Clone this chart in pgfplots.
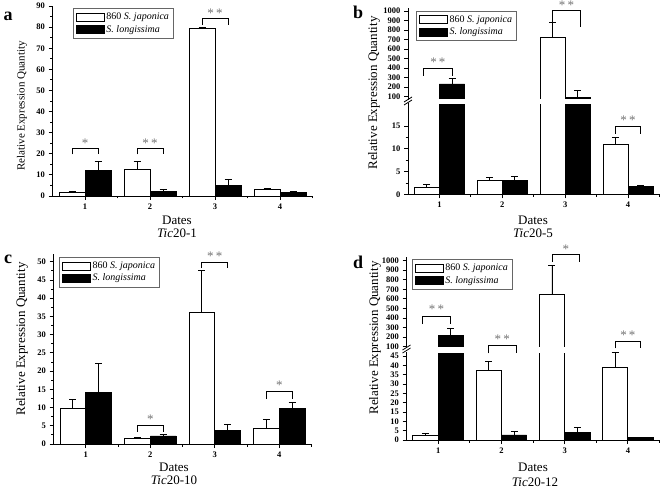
\documentclass[border=0pt]{standalone}
\usepackage{fontspec}
\setmainfont{Liberation Serif}
\usepackage{pgfplots}
\pgfplotsset{compat=1.18}

\pgfplotsset{
  base/.style={scale only axis, ybar=0pt, bar width=0.4, xmin=0.5, xmax=4.5,
    tick align=outside, major tick length=4pt, minor tick length=2.5pt,
    every tick/.style={black, line width=0.8pt},
    axis line style={line width=0.8pt},
    ticklabel style={font=\bfseries\fontsize{8.5}{9}\selectfont},
    /pgf/number format/assume math mode=true,
    /pgf/number format/1000 sep={},
    clip mode=individual,
    legend style={draw=black!60, line width=0.7pt, font=\fontsize{10}{11}\selectfont, inner xsep=2.5pt, inner ysep=2.5pt, cells={anchor=west}, row sep=0pt},
  },
  lower/.style={base, axis lines*=left, xtick={1,2,3,4}, minor xtick={1.5,2.5,3.5,4.5}},
  upper/.style={base, axis y line*=left, axis x line=none, xtick=\empty, ytick={100,200,...,1000}},
  errs/.style={error bars/y dir=plus, error bars/y explicit,
    error bars/error bar style={line width=0.8pt, black},
    error bars/error mark options={rotate=90, mark size=3.5pt, line width=0.8pt, black}},
  wbar/.style={fill=white, draw=black, line width=0.8pt, bar shift=-0.2, errs,
    legend image code/.code={\draw[fill=white, draw=black, line width=0.6pt] (0pt,-4pt) rectangle (28pt,4pt);}},
  bbar/.style={fill=black, draw=black, line width=0.8pt, bar shift=0.2, errs,
    legend image code/.code={\draw[fill=black, draw=black, line width=0.6pt] (0pt,-4pt) rectangle (28pt,4pt);}},
}
\newcommand{\sig}[6]{%
  \draw[line width=0.8pt] (axis cs:#1,#4) -- (axis cs:#1,#3) -- (axis cs:#2,#3) -- (axis cs:#2,#4);
  \node[font=\fontsize{13}{13}\selectfont, text=black!55] at (axis cs:{(#1+#2)/2},#6) {#5};}
\newcommand{\ylab}{Relative Expression Quantity}

\begin{document}
\begin{tikzpicture}
\path[use as bounding box] (0,0) rectangle (660pt,490pt);

% ---------------- panel a ----------------
\begin{axis}[lower, at={(52.5pt,294pt)}, anchor=south west, width=260pt, height=190pt,
  ymin=0, ymax=90, ytick={0,10,...,90}, minor y tick num=1,
  legend style={at={(0.079,0.989)}, anchor=north west}]
\addplot[wbar] table[x=x, y=y, y error=e] {
x y e
1 1.5 0.9
2 12.5 3.7
3 79.2 0.5
4 3.1 0.5
};
\addlegendentry{860 \textit{S. japonica}}
\addplot[bbar] table[x=x, y=y, y error=e] {
x y e
1 12.2 4.3
2 2.2 0.8
3 4.8 3.2
4 1.6 0.5
};
\addlegendentry{\textit{S. longissima}}
\sig{0.8}{1.2}{22.5}{19.7}{*}{25.2}
\sig{1.8}{2.2}{22.5}{19.7}{*\,*}{25.2}
\sig{2.8}{3.2}{84}{80.9}{*\,*}{86.8}
\end{axis}
\node[rotate=90, font=\fontsize{11}{11}\selectfont] at (22pt,384pt) {\ylab};
\node[font=\fontsize{13}{13}\selectfont] at (177pt,270pt) {Dates};
\node[font=\fontsize{13}{13}\selectfont] at (177pt,257pt) {\textit{Tic}20-1};
\node[font=\bfseries\fontsize{18}{18}\selectfont] at (8pt,474pt) {a};

% ---------------- panel b ----------------
\begin{axis}[upper, at={(408pt,390pt)}, anchor=south west, width=251.5pt, height=91.9pt,
  ymin=65, ymax=1030, restrict y to domain=65:5000,
  legend style={at={(0.032,0.972)}, anchor=north west}]
\addplot[wbar] table[x=x, y=y, y error=e] {
x y e
1 1.6 0.6
2 3.0 0.8
3 725 160
4 11.0 1.4
};
\addlegendentry{860 \textit{S. japonica}}
\addplot[bbar] table[x=x, y=y, y error=e] {
x y e
1 233 55
2 3.1 0.9
3 93 68
4 1.8 0.2
};
\addlegendentry{\textit{S. longissima}}
\sig{0.75}{1.2}{397}{317}{*\,*}{462}
\sig{2.8}{3.24}{1010}{834}{*\,*}{1055}
\end{axis}
\begin{axis}[lower, at={(408pt,295.7pt)}, anchor=south west, width=251.5pt, height=91pt,
  ymin=0, ymax=20, ytick={0,5,10,15}, minor y tick num=1]
\addplot[wbar] table[x=x, y=y, y error=e] {
x y e
1 1.6 0.6
2 3.0 0.8
3 725 160
4 11.0 1.4
};
\addplot[bbar] table[x=x, y=y, y error=e] {
x y e
1 233 55
2 3.1 0.9
3 93 68
4 1.8 0.2
};
\sig{3.8}{4.2}{14.9}{13.3}{*\,*}{16.3}
\end{axis}
% break gap
\fill[white] (438pt,386.2pt) rectangle (466pt,390.5pt);
\fill[white] (538.5pt,386.2pt) rectangle (592pt,390.5pt);
\draw[line width=0.8pt] (404pt,385pt) -- (412pt,390pt);
\draw[line width=0.8pt] (404pt,388pt) -- (412pt,393pt);
\node[rotate=90, font=\fontsize{13}{13}\selectfont] at (374pt,397pt) {\ylab};
\node[font=\fontsize{13}{13}\selectfont] at (533pt,270pt) {Dates};
\node[font=\fontsize{13}{13}\selectfont] at (533pt,257pt) {\textit{Tic}20-5};
\node[font=\bfseries\fontsize{18}{18}\selectfont] at (358pt,478pt) {b};

% ---------------- panel c ----------------
\begin{axis}[lower, at={(53.5pt,46pt)}, anchor=south west, width=258pt, height=189.6pt,
  ymin=0, ymax=52, ytick={0,5,...,50}, minor y tick num=1,
  legend style={at={(0.022,0.986)}, anchor=north west}]
\addplot[wbar] table[x=x, y=y, y error=e] {
x y e
1 9.8 2.5
2 1.4 0.4
3 36.2 11.4
4 4.3 2.4
};
\addlegendentry{860 \textit{S. japonica}}
\addplot[bbar] table[x=x, y=y, y error=e] {
x y e
1 14.2 7.8
2 2.2 0.4
3 3.7 1.7
4 9.7 1.7
};
\addlegendentry{\textit{S. longissima}}
\sig{1.8}{2.2}{5.2}{3.4}{*}{6.9}
\sig{2.8}{3.2}{49.8}{48.2}{*\,*}{51.5}
\sig{3.8}{4.2}{14.3}{12.3}{*}{16.0}
\end{axis}
\node[rotate=90, font=\fontsize{13}{13}\selectfont] at (22pt,151pt) {\ylab};
\node[font=\fontsize{13}{13}\selectfont] at (174pt,23pt) {Dates};
\node[font=\fontsize{13}{13}\selectfont] at (174pt,10pt) {\textit{Tic}20-10};
\node[font=\bfseries\fontsize{18}{18}\selectfont] at (8pt,231pt) {c};

% ---------------- panel d ----------------
\begin{axis}[upper, at={(406.5pt,142.8pt)}, anchor=south west, width=253pt, height=90.4pt,
  ymin=95, ymax=1040, restrict y to domain=95:5000,
  legend style={at={(0.021,0.972)}, anchor=north west}]
\addplot[wbar] table[x=x, y=y, y error=e] {
x y e
1 2.5 0.8
2 37.4 4.6
3 648 300
4 39.0 7.8
};
\addlegendentry{860 \textit{S. japonica}}
\addplot[bbar] table[x=x, y=y, y error=e] {
x y e
1 220 72
2 2.7 1.8
3 4.2 2.5
4 1.3 0.3
};
\addlegendentry{\textit{S. longissima}}
\sig{0.75}{1.2}{421}{337}{*\,*}{488}
\sig{1.8}{2.23}{110}{30}{*\,*}{176}
\sig{2.8}{3.24}{1066}{990}{*}{1115}
\sig{3.8}{4.2}{152}{83}{*\,*}{220}
\end{axis}
\begin{axis}[lower, at={(406.5pt,50pt)}, anchor=south west, width=253pt, height=87.7pt,
  ymin=0, ymax=47, ytick={0,5,...,45}]
\addplot[wbar] table[x=x, y=y, y error=e] {
x y e
1 2.5 0.8
2 37.4 4.6
3 648 300
4 39.0 7.8
};
\addplot[bbar] table[x=x, y=y, y error=e] {
x y e
1 220 72
2 2.7 1.8
3 4.2 2.5
4 1.3 0.3
};
\end{axis}
% break gap
\fill[white] (436.5pt,137.2pt) rectangle (465pt,143.3pt);
\fill[white] (537.7pt,137.2pt) rectangle (566.2pt,143.3pt);
\draw[line width=0.8pt] (402.5pt,137pt) -- (410.5pt,142pt);
\draw[line width=0.8pt] (402.5pt,140pt) -- (410.5pt,145pt);
\node[rotate=90, font=\fontsize{13}{13}\selectfont] at (375pt,152pt) {\ylab};
\node[font=\fontsize{13}{13}\selectfont] at (533pt,23pt) {Dates};
\node[font=\fontsize{13}{13}\selectfont] at (535pt,8pt) {\textit{Tic}20-12};
\node[font=\bfseries\fontsize{18}{18}\selectfont] at (358pt,228pt) {d};
\end{tikzpicture}
\end{document}
